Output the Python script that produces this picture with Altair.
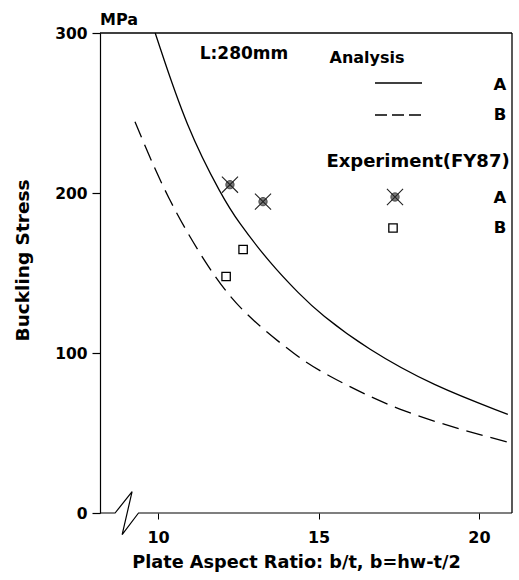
import altair as alt
import pandas as pd

# Analysis curves
solid_x = [9.91, 10.90, 12.02, 12.46, 13.49, 14.42, 15.05, 16.51, 18.57, 20.90]
solid_y = [300, 240, 197, 183, 156, 136.5, 124.5, 102.5, 79.5, 61.7]
dashed_x = [9.28, 10.28, 11.62, 12.65, 14.42, 15.05, 17.54, 20.90]
dashed_y = [244.5, 196.5, 151, 124.5, 96.5, 88.5, 62.5, 44.3]

# Experiment (FY87)
expA_x = [12.24, 13.27]
expA_y = [205.2, 194.6]
expB_x = [12.65, 12.12]
expB_y = [164.7, 147.8]

# axis
x_ticks = [10, 15, 20]
y_ticks = [0, 100, 200, 300]
X_MIN, X_MAX = 8.19, 21.03

# axis break (data units)
brk_x = [X_MIN, 8.66, 9.19, 8.88, 9.39, X_MAX]
brk_y = [0, 0, 13.3, -13.5, 0, 0]

FONT = "DejaVu Sans"
W, H = 412, 480

xs = alt.Scale(domain=[X_MIN, X_MAX], nice=False, zero=False)
ys = alt.Scale(domain=[0, 300], nice=False)

solid = pd.DataFrame({"x": solid_x, "y": solid_y})
dashed = pd.DataFrame({"x": dashed_x, "y": dashed_y})
dA = pd.DataFrame({"x": expA_x, "y": expA_y})
dB = pd.DataFrame({"x": expB_x, "y": expB_y})
brk = pd.DataFrame({"x": brk_x, "y": brk_y, "o": list(range(len(brk_x)))})

xaxis = alt.Axis(values=x_ticks, domain=False, ticks=True, tickSize=6, tickColor="black",
                 labelFont=FONT, labelFontWeight="bold", labelFontSize=16, labelColor="black",
                 labelPadding=10, grid=False,
                 title="Plate Aspect Ratio: b/t, b=hw-t/2", titleFont=FONT, titleFontWeight="bold",
                 titleFontSize=17.7, titleColor="black", titleX=196, titleY=49,
                 titleBaseline="middle", titleAlign="center")
yaxis = alt.Axis(values=y_ticks, domain=True, domainColor="black", domainWidth=1.2,
                 ticks=True, tickSize=8, tickColor="black", tickWidth=1.2,
                 labelFont=FONT, labelFontWeight="bold", labelFontSize=15.5, labelColor="black",
                 labelPadding=5, grid=False,
                 title="Buckling Stress", titleFont=FONT, titleFontWeight="bold",
                 titleFontSize=18.5, titleColor="black", titleX=-78, titleY=227,
                 titleAngle=-90, titleBaseline="middle", titleAlign="center")

base_solid = alt.Chart(solid).mark_line(color="black", strokeWidth=1.3, interpolate="basis").encode(
    x=alt.X("x:Q", scale=xs, axis=xaxis),
    y=alt.Y("y:Q", scale=ys, axis=yaxis),
)
base_dashed = alt.Chart(dashed).mark_line(color="black", strokeWidth=1.3, strokeDash=[17, 8],
                                          interpolate="basis").encode(
    x=alt.X("x:Q", scale=xs), y=alt.Y("y:Q", scale=ys))

xpath = "M-1,-1L1,1M-1,1L1,-1"
ptsA_c = alt.Chart(dA).mark_point(shape="circle", filled=True, color="#7a7a7a", size=70,
                                  stroke="#333", strokeWidth=0.8, opacity=1).encode(
    x=alt.X("x:Q", scale=xs), y=alt.Y("y:Q", scale=ys))
ptsA_x = alt.Chart(dA).mark_point(shape=xpath, filled=False, color="#222", size=260,
                                  strokeWidth=1.1, opacity=1).encode(
    x=alt.X("x:Q", scale=xs), y=alt.Y("y:Q", scale=ys))
ptsB = alt.Chart(dB).mark_point(shape="square", filled=False, color="black", size=70,
                                strokeWidth=1.3, opacity=1).encode(
    x=alt.X("x:Q", scale=xs), y=alt.Y("y:Q", scale=ys))

# bottom axis line with break
brk_line = alt.Chart(brk).mark_line(color="black", strokeWidth=1.2, clip=False).encode(
    x=alt.X("x:Q", scale=xs), y=alt.Y("y:Q", scale=ys), order="o:O")

one = pd.DataFrame({"a": [0]})
top_rule = alt.Chart(one).mark_rule(color="black", strokeWidth=1.3).encode(
    x=alt.value(0), x2=alt.value(W), y=alt.value(0))
right_rule = alt.Chart(one).mark_rule(color="black", strokeWidth=1.3).encode(
    x=alt.value(W), y=alt.value(0), y2=alt.value(H))

def txt(s, x, y, size=16, align="center", baseline="middle"):
    return alt.Chart(one).mark_text(text=s, font=FONT, fontWeight="bold", fontSize=size,
                                    color="black", align=align, baseline=baseline).encode(
        x=alt.value(x), y=alt.value(y))

labels = [
    txt("MPa", 0, -8, 16, align="left", baseline="alphabetic"),
    txt("L:280mm", 144, 21, 17),
    txt("Analysis", 267, 25, 16),
    txt("A", 400, 52, 16.5),
    txt("B", 400, 82, 16.5),
    txt("Experiment(FY87)", 318, 129, 18),
    txt("A", 400, 165, 16.5),
    txt("B", 400, 195, 16.5),
]
leg_solid = alt.Chart(one).mark_rule(color="black", strokeWidth=1.3).encode(
    x=alt.value(275), x2=alt.value(322), y=alt.value(50))
leg_dash = alt.Chart(one).mark_rule(color="black", strokeWidth=1.3, strokeDash=[12, 5]).encode(
    x=alt.value(275), x2=alt.value(322), y=alt.value(82))
leg_A_c = alt.Chart(one).mark_point(shape="circle", filled=True, color="#7a7a7a", size=70,
                                    stroke="#333", strokeWidth=0.8, opacity=1).encode(
    x=alt.value(295), y=alt.value(164))
leg_A_x = alt.Chart(one).mark_point(shape=xpath, filled=False, color="#222", size=260,
                                    strokeWidth=1.1, opacity=1).encode(
    x=alt.value(295), y=alt.value(164))
leg_B = alt.Chart(one).mark_point(shape="square", filled=False, color="black", size=70,
                                  strokeWidth=1.3, opacity=1).encode(
    x=alt.value(293), y=alt.value(195))

chart = alt.layer(
    base_solid, base_dashed, ptsA_c, ptsA_x, ptsB, brk_line, top_rule, right_rule,
    leg_solid, leg_dash, leg_A_c, leg_A_x, leg_B, *labels
).properties(
    width=W, height=H,
    autosize=alt.AutoSizeParams(type="none"),
    padding={"left": 100, "top": 33, "right": 7, "bottom": 67},
    background="white",
).configure_view(stroke=None)

chart.save("out.html", embed_options={"renderer": "svg", "actions": False})
